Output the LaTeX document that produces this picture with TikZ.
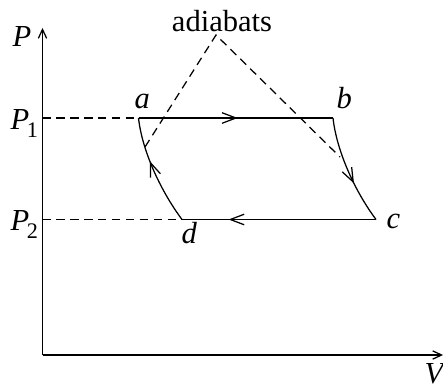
\documentclass[tikz,border=0pt]{standalone}
\usepackage{fontspec}
\setmainfont{Liberation Serif}
\usetikzlibrary{arrows.meta,decorations.markings}
\tikzset{
  ln/.style={line width=0.45pt},
  dsh/.style={ln,dash pattern=on 3pt off 2pt},
  axisarrow/.style={ln,-{Straight Barb[length=3.2pt,width=3pt]}},
  midarrow/.style={postaction={decorate},decoration={markings,
     mark=at position #1 with {\arrow{Straight Barb[length=5pt,width=3.8pt,line width=0.45pt]}}}},
  lbl/.style={inner sep=0pt,anchor=base west,font=\fontsize{11}{13}\selectfont}
}
\newcommand{\Plab}[1]{\textit{P}\kern-0.8pt\raisebox{-2.9pt}{\fontsize{8}{8}\selectfont #1}}
\begin{document}
\begin{tikzpicture}[x=0.36pt,y=-0.36pt]
\useasboundingbox (0,0) rectangle (443,386);
% points
\coordinate (O) at (42.5,355);
\coordinate (ytop) at (42.5,28);
\coordinate (xend) at (443,355);
\coordinate (a) at (138.5,118);
\coordinate (b) at (333,118);
\coordinate (c) at (376,219.5);
\coordinate (d) at (182,219.5);
\coordinate (p1) at (42.5,118);
\coordinate (p2) at (42.5,219.5);
\coordinate (apex) at (216,35);
\coordinate (adl) at (145,147);
\coordinate (adr) at (340,157);
% axes
\draw[axisarrow] (O) -- (ytop);
\draw[axisarrow] (O) -- (xend);
% dashed levels
\draw[dsh] (p1) -- (a);
\draw[dsh] (p2) -- (d);
% adiabats
\draw[dsh] (adl) -- (apex) -- (adr);
% cycle
\draw[ln,midarrow=0.51] (a) -- (b);
\draw[ln,midarrow=0.62] (b) .. controls (336.5,150) and (354,190) .. (c);
\draw[ln,midarrow=0.76] (c) -- (d);
\draw[ln,midarrow=0.6] (d) .. controls (160,190) and (142,150) .. (a);
% labels
\node[lbl] (lP) at (12,47) {\textit{P}};
\node[lbl] (lP1) at (10,129) {\Plab{1}};
\node[lbl] (lP2) at (10,230) {\Plab{2}};
\node[lbl] (la) at (134,108) {\textit{a}};
\node[lbl] (lb) at (336,108) {\textit{b}};
\node[lbl] (lc) at (386,228) {\textit{c}};
\node[lbl] (ld) at (181,243) {\textit{d}};
\node[lbl] (lV) at (424,383) {\textit{V}};
\node[inner sep=0pt,anchor=base,font=\fontsize{11}{13}\selectfont] (lad) at (222,32) {adiabats};
\end{tikzpicture}
\end{document}
